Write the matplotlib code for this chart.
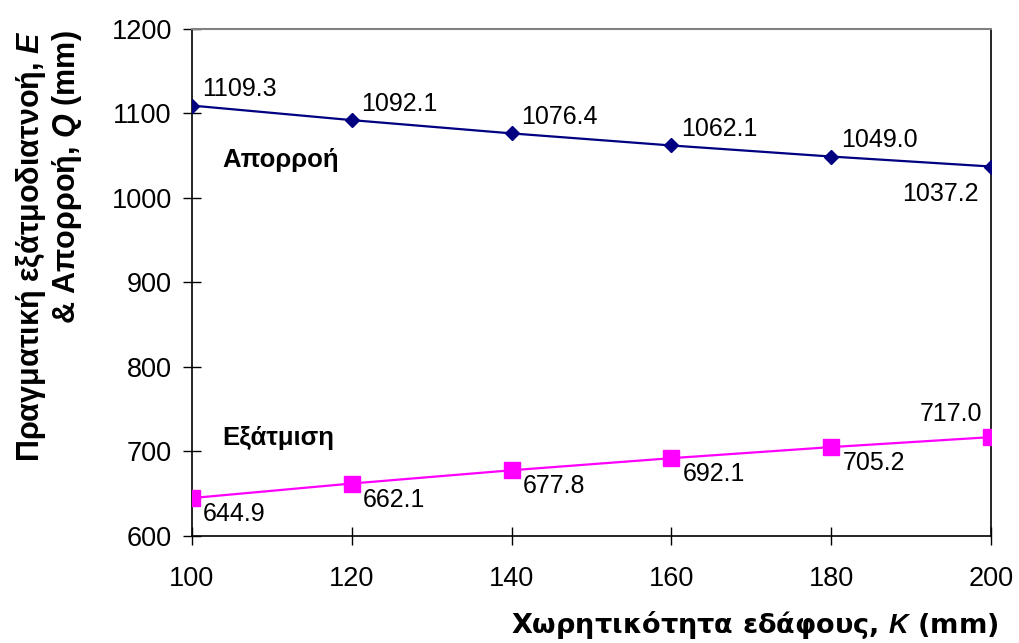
import matplotlib
matplotlib.use("Agg")
import matplotlib.pyplot as plt

# data
capacity = [100, 120, 140, 160, 180, 200]          # K (mm)
runoff = [1109.3, 1092.1, 1076.4, 1062.1, 1049.0, 1037.2]   # Q (mm)
evap = [644.9, 662.1, 677.8, 692.1, 705.2, 717.0]           # E (mm)
y_ticks = [600, 700, 800, 900, 1000, 1100, 1200]
x_ticks = [100, 120, 140, 160, 180, 200]

plt.rcParams['font.family'] = ['Liberation Sans', 'DejaVu Sans']
plt.rcParams['mathtext.fontset'] = 'custom'
plt.rcParams['mathtext.it'] = 'Liberation Sans:italic:bold'
plt.rcParams['mathtext.rm'] = 'Liberation Sans:bold'

fig = plt.figure(figsize=(10.19, 6.43), dpi=100)
ax = fig.add_axes([0.1884, 0.1664, 0.9725 - 0.1884, 0.955 - 0.1664])

ax.plot(capacity, runoff, color='#000080', lw=1.6, marker='D', ms=7.5, zorder=3)
ax.plot(capacity, evap, color='#FF00FF', lw=1.6, marker='s', ms=11, zorder=3)

# value labels
for i, (x, y) in enumerate(zip(capacity, runoff)):
    if i == len(capacity) - 1:
        ax.annotate(f"{y:.1f}", (x, y), xytext=(-9, -11), textcoords='offset points',
                    ha='right', va='top', fontsize=18)
    else:
        ax.annotate(f"{y:.1f}", (x, y), xytext=(7, 3), textcoords='offset points',
                    ha='left', va='bottom', fontsize=18)

for i, (x, y) in enumerate(zip(capacity, evap)):
    if i == len(capacity) - 1:
        ax.annotate(f"{y:.1f}", (x, y), xytext=(-6, 8), textcoords='offset points',
                    ha='right', va='bottom', fontsize=18)
    else:
        ax.annotate(f"{y:.1f}", (x, y), xytext=(8, -3), textcoords='offset points',
                    ha='left', va='top', fontsize=18)

ax.text(103.8, 1045, "Απορροή", fontsize=18.5, fontweight='bold', va='center', ha='left')
ax.text(103.8, 716, "Εξάτμιση", fontsize=18.5, fontweight='bold', va='center', ha='left')

ax.set_xlim(100, 200)
ax.set_ylim(600, 1200)
ax.set_xticks(x_ticks)
ax.set_yticks(y_ticks)
ax.tick_params(axis='both', direction='inout', length=13, width=1, labelsize=19.5)
ax.tick_params(axis='x', pad=15)
ax.tick_params(axis='y', pad=8)

for side in ['left', 'bottom', 'right']:
    ax.spines[side].set_color('black')
    ax.spines[side].set_linewidth(1.2)
ax.spines['top'].set_color('#808080')
ax.spines['top'].set_linewidth(1.5)

fig.text(0.048, 1 - 246 / 643,
         "Πραγματική εξάτμοδιατνοή, $\\mathit{E}$\n& Απορροή, $\\mathit{Q}$ (mm)",
         rotation=90, ha='center', va='center', multialignment='right',
         fontsize=22, fontweight='bold', linespacing=1.08)
fig.text(755 / 1019, 1 - 625 / 643, "Χωρητικότητα εδάφους, $\\mathit{K}$ (mm)",
         ha='center', va='center', fontsize=19.5, fontweight='bold',
         family='DejaVu Sans')

fig.savefig("out.png", dpi=100)
